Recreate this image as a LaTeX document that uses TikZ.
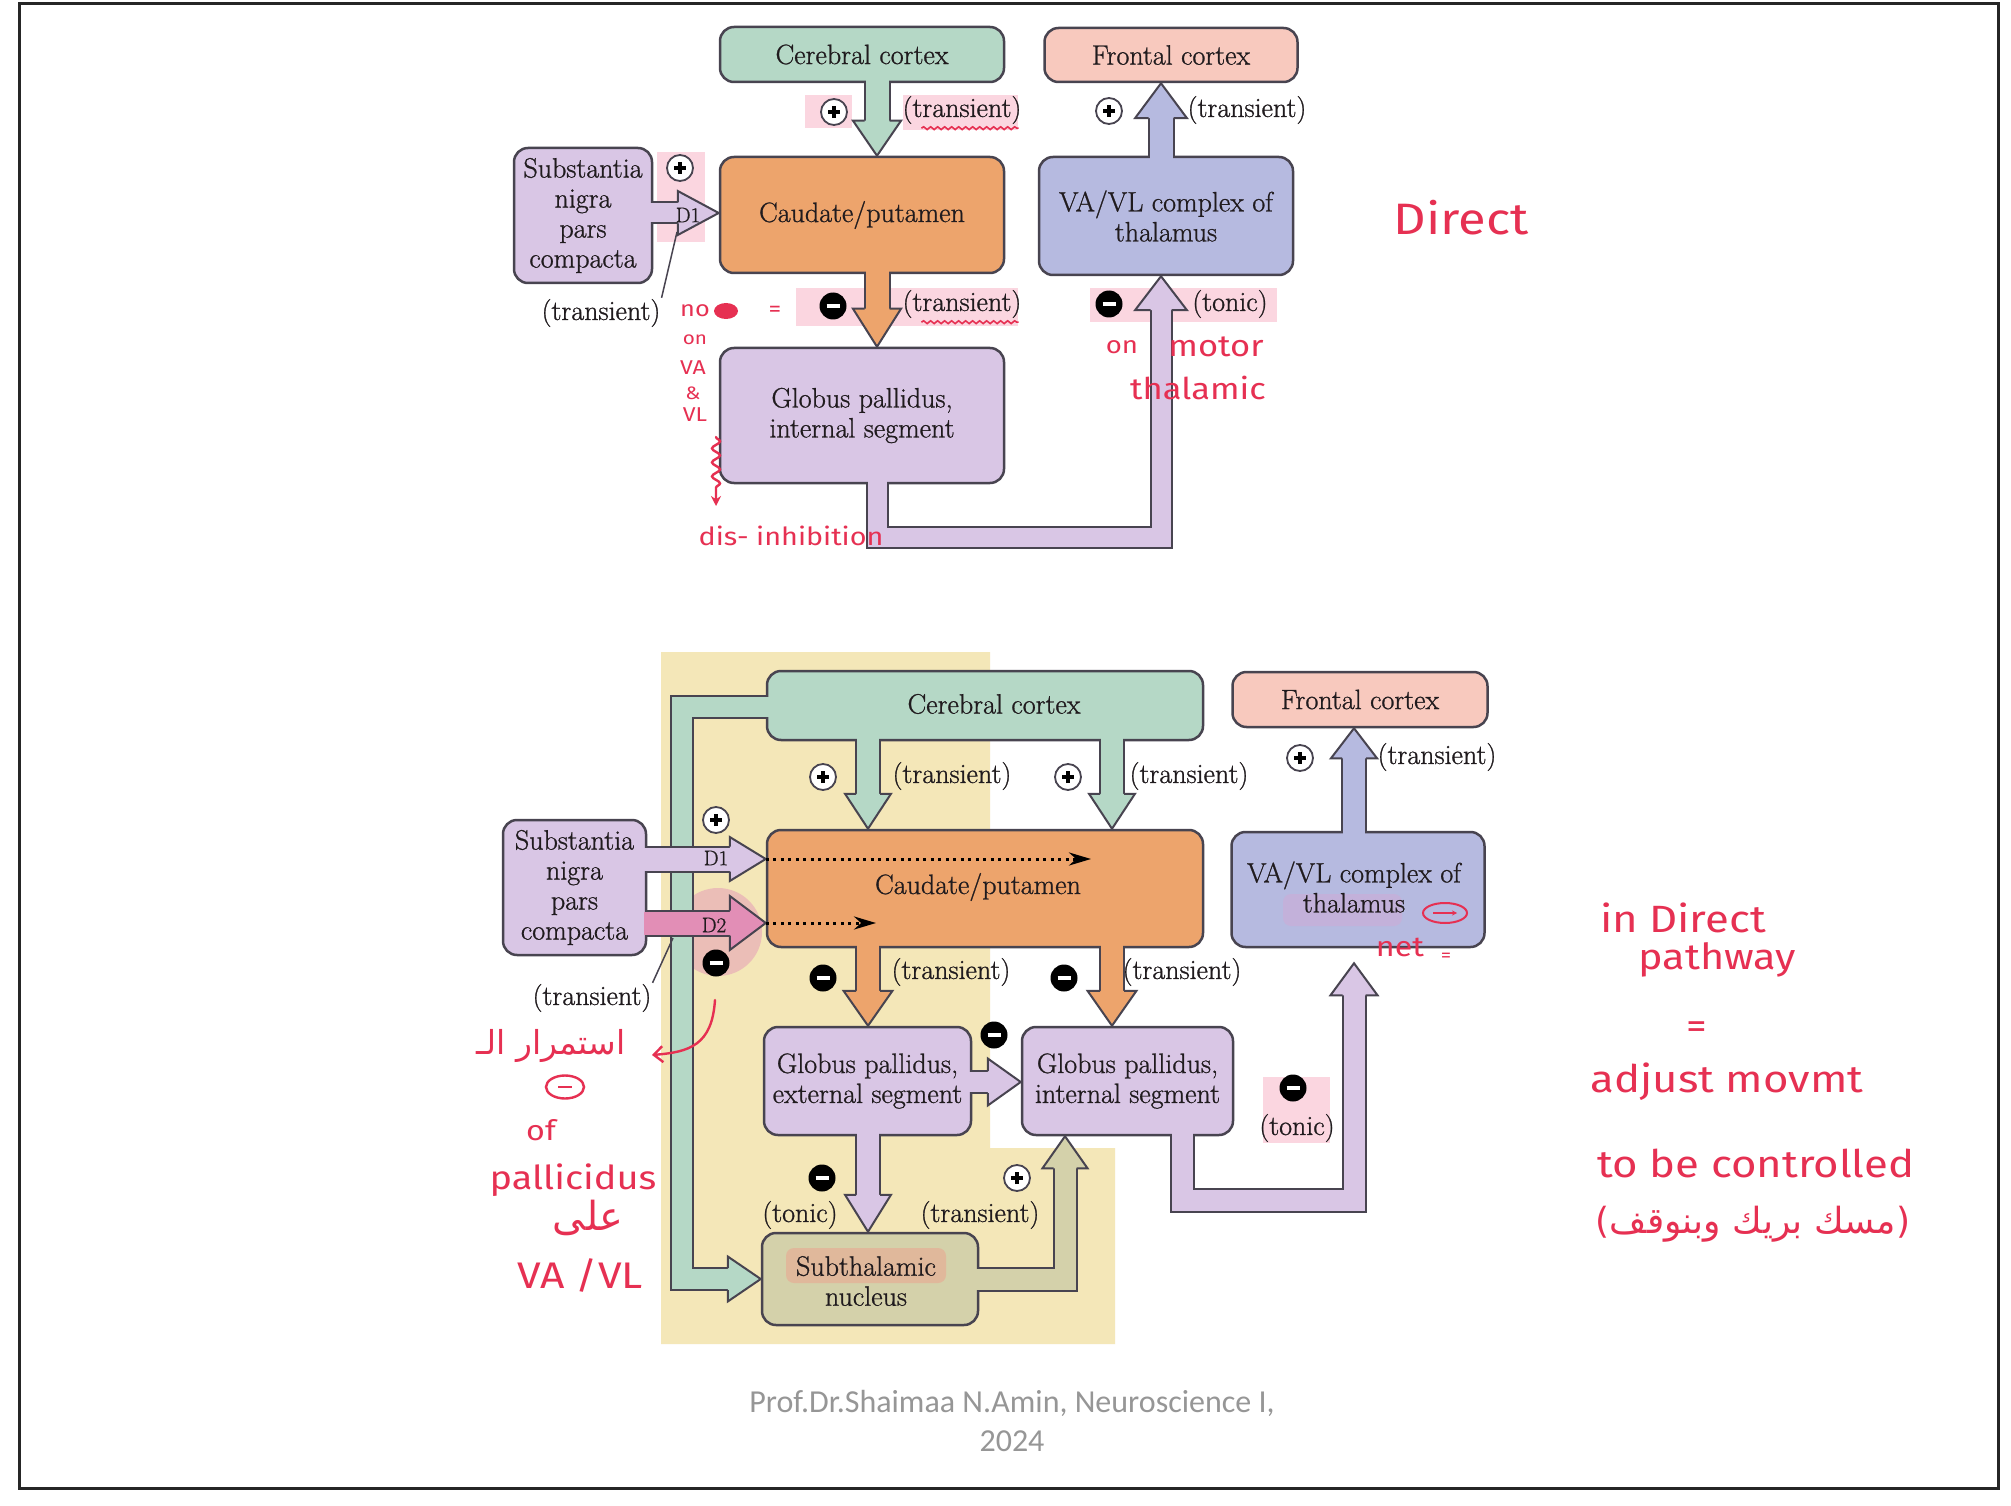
\documentclass[tikz,border=0pt]{standalone}
\usepackage{fontspec}
\usetikzlibrary{arrows.meta,calc,decorations.pathmorphing,shapes.geometric}
\TeXXeTstate=1
\newfontfamily\boxfont[FakeBold=0.9]{Latin Modern Roman}
\newfontfamily\handfont[FakeStretch=1.15]{Fira Sans}
\newfontfamily\arabicfont[Script=Arabic]{DejaVu Sans}
\newfontfamily\footfont{Carlito}

\definecolor{edge}{RGB}{72,68,80}
\definecolor{cortexgreen}{RGB}{181,216,198}
\definecolor{frontalpink}{RGB}{248,201,190}
\definecolor{caudorange}{RGB}{237,164,108}
\definecolor{thallav}{RGB}{182,186,224}
\definecolor{pallpurple}{RGB}{217,198,229}
\definecolor{stnkhaki}{RGB}{212,209,170}
\definecolor{dtwopink}{RGB}{226,142,182}
\definecolor{bgyellow}{RGB}{244,231,184}
\definecolor{pen}{RGB}{230,48,82}
\definecolor{marker}{RGB}{251,214,224}
\definecolor{labeltext}{RGB}{32,27,30}
\definecolor{footgray}{RGB}{150,150,150}

% shaft of a block arrow: dark rim first, fill colour on top
\newcommand{\blockshaft}[3]{%
  \draw[draw=edge, line width=#2+4pt, line join=miter] #3;
  \draw[draw=#1, line width=#2, line join=miter, shorten <=-3pt, shorten >=-2pt] #3;}
% head of a block arrow: fill, tip, angle, head width, head length, shaft width
\newcommand{\blockhead}[6]{%
  \begin{scope}[shift={#2}, rotate=#3]
    \fill[#1] (0pt,0pt) -- (-#5,#4/2) -- (-#5,-#4/2) -- cycle;
    \draw[edge, line width=2pt, line join=miter]
      (-#5,#6/2+1pt) -- (-#5,#4/2) -- (0pt,0pt) -- (-#5,-#4/2) -- (-#5,-#6/2-1pt);
  \end{scope}}

\tikzset{
  region/.style={draw=edge, line width=2.5pt, rounded corners=14pt, text=labeltext,
    font=\boxfont\fontsize{28}{30}\selectfont, align=center, inner sep=0pt},
  lbl/.style={text=labeltext, font=\boxfont\fontsize{28}{30}\selectfont, inner sep=1pt, align=center},
  dlbl/.style={text=labeltext, font=\boxfont\fontsize{21}{21}\selectfont, inner sep=0pt},
  excite/.style={circle, draw=edge, fill=white, line width=1.8pt, minimum size=26pt, inner sep=0pt,
    path picture={\draw[black, line width=3.2pt]
      (path picture bounding box.center) +(-6pt,0pt) -- +(6pt,0pt)
      (path picture bounding box.center) +(0pt,-6pt) -- +(0pt,6pt);}},
  inhibit/.style={circle, fill=black, minimum size=27pt, inner sep=0pt,
    path picture={\draw[white, line width=3.5pt]
      (path picture bounding box.center) +(-6.5pt,0pt) -- +(6.5pt,0pt);}},
  hand/.style={text=pen, inner sep=0pt, font=\handfont\fontsize{#1}{#1}\selectfont},
  hand/.default=26,
  arab/.style={text=pen, inner sep=0pt, font=\arabicfont\fontsize{#1}{#1}\selectfont},
  penline/.style={draw=pen, line width=2.4pt, line cap=round},
  wavy/.style={draw=pen, line width=1.6pt, decorate,
    decoration={snake, amplitude=1.4pt, segment length=7pt}},
  dopamine/.style={line width=3pt, dash pattern=on 3pt off 4.5pt, -{Stealth[length=22pt,width=13pt]}},
}

\begin{document}
\begin{tikzpicture}[x=1pt,y=-1pt]
\useasboundingbox (0,0) rectangle (2011,1506);
\fill[white] (0,0) rectangle (2011,1506);
\draw[line width=3pt, black!85] (19,4) rectangle (1998,1488);

% ---------------- highlighter marks (top) ----------------
\fill[marker] (805,95) rectangle (852,128);
\fill[marker] (903,95) rectangle (1018,130);
\fill[marker] (657,152) rectangle (705,242);
\fill[marker] (796,288) rectangle (1018,326);
\fill[marker] (1090,288) rectangle (1277,322);

% ================= DIRECT PATHWAY =================
\node[region, fill=cortexgreen, minimum width=284pt, minimum height=55pt] (cc1) at (862,54.5) {Cerebral cortex};
\node[region, fill=frontalpink, minimum width=253pt, minimum height=54pt] (fc1) at (1171,55) {Frontal cortex};
\node[region, fill=caudorange, minimum width=284pt, minimum height=116pt] (cp1) at (862,215) {Caudate/putamen};
\node[region, fill=thallav, minimum width=254pt, minimum height=118pt] (th1) at (1166,216) {VA/VL complex of\\thalamus};
\node[region, fill=pallpurple, minimum width=138pt, minimum height=135pt] (sn1) at (583,215.5) {Substantia\\nigra\\pars\\compacta};
\node[region, fill=pallpurple, minimum width=284pt, minimum height=135pt] (gpi1) at (862,415.5) {Globus pallidus,\\internal segment};

\coordinate (tA) at (877,0);
\coordinate (tB) at (1161,0);
\coordinate (tR) at (0,537);
\coordinate (tD) at (0,213);

% cortex -> caudate
\blockshaft{cortexgreen}{23pt}{(cc1.south -| tA) -- ($(cp1.north -| tA)+(0pt,35pt)$)}
\blockhead{cortexgreen}{(cp1.north -| tA)}{-90}{48pt}{35pt}{23pt}
% caudate -> GPi
\blockshaft{caudorange}{23pt}{(cp1.south -| tA) -- ($(gpi1.north -| tA)+(0pt,38pt)$)}
\blockhead{caudorange}{(gpi1.north -| tA)}{-90}{48pt}{38pt}{23pt}
% thalamus -> frontal cortex
\blockshaft{thallav}{23pt}{(th1.north -| tB) -- ($(fc1.south -| tB)+(0pt,-35pt)$)}
\blockhead{thallav}{(fc1.south -| tB)}{90}{52pt}{35pt}{23pt}
% GPi -> thalamus
\blockshaft{pallpurple}{19pt}{(gpi1.south -| tA) -- (tA |- tR) -- (tB |- tR) -- ($(th1.south -| tB)+(0pt,-34pt)$)}
\blockhead{pallpurple}{(th1.south -| tB)}{90}{52pt}{34pt}{19pt}
% substantia nigra -> caudate (D1)
\blockshaft{pallpurple}{19pt}{(sn1.east |- tD) -- ($(cp1.west |- tD)+(-41pt,0pt)$)}
\blockhead{pallpurple}{(cp1.west |- tD)}{0}{44pt}{41pt}{19pt}
\node[dlbl] (d1a) at (688,215) {D1};

\node[excite] (s1) at (834,112) {};
\node[lbl] (l1) at (962,110) {(transient)};
\node[excite] (s2) at (1109,111) {};
\node[lbl] (l2) at (1247,110) {(transient)};
\node[excite] (s3) at (680,168) {};
\node[inhibit] (s4) at (833,306) {};
\node[lbl] (l3) at (962,304) {(transient)};
\node[inhibit] (s5) at (1109,304) {};
\node[lbl] (l4) at (1230,304) {(tonic)};
\node[lbl] (l5) at (601,313) {(transient)};
\coordinate (d1foot) at (677,232);
\draw[edge, line width=1.5pt] (l5.north east) -- (d1foot);

% annotations (direct)
\draw[wavy] ($(l1.south west)+(20pt,-3pt)$) -- ($(l1.south east)+(-4pt,-3pt)$);
\draw[wavy] ($(l3.south west)+(20pt,-3pt)$) -- ($(l3.south east)+(-4pt,-3pt)$);
\node[hand=22] (h1) at (695,311) {no};
\node[ellipse, fill=pen, minimum width=24pt, minimum height=16pt, inner sep=0pt] (h1b) at (726,311) {};
\node[hand=22] (h2) at (775,311) {=};
\node[hand=18] (h3) at (695,340) {on};
\node[hand=20] (h4) at (693,368) {VA};
\node[hand=18] (h5) at (693,393) {\&};
\node[hand=20] (h6) at (695,415) {VL};
\coordinate (sq1) at (716,437);
\coordinate (sq2) at (716,506);
\draw[penline, -{Stealth[length=10pt,width=10pt]}, decorate,
  decoration={snake, amplitude=4pt, segment length=14pt, post length=14pt}] (sq1) -- (sq2);
\node[hand=25] (h7) at (791,536) {dis- inhibition};
\node[hand=24] (h8) at (1122,347) {on};
\node[hand=30] (h9) at (1216,347) {motor};
\node[hand=30] (h10) at (1198,388) {thalamic};
\node[hand=44] (h11) at (1461,218) {Direct};

% ================= INDIRECT PATHWAY =================
\fill[bgyellow] (661,652) -- (990,652) -- (990,1148) -- (1115,1148) -- (1115,1344) -- (661,1344) -- cycle;
\fill[dtwopink, opacity=0.45] (718,932) circle [radius=44pt];
\fill[marker] (1263,1077) rectangle (1330,1143);

\node[region, fill=cortexgreen, minimum width=436pt, minimum height=69pt] (cc2) at (985,705.5) {};
\node[lbl] (cc2t) at (994,704) {Cerebral cortex};
\node[region, fill=frontalpink, minimum width=255pt, minimum height=55pt] (fc2) at (1360,699.5) {Frontal cortex};
\node[region, fill=caudorange, minimum width=436pt, minimum height=117pt] (cp2) at (985,888.5) {};
\node[lbl] (cp2t) at (978,887) {Caudate/putamen};
\node[region, fill=thallav, minimum width=253pt, minimum height=115pt] (th2) at (1358,889.5) {};
\fill[rounded corners=8pt, fill={rgb,255:red,205;green,172;blue,214}, opacity=0.6] (1283,894) rectangle (1402,926);
\node[lbl] (th2t) at (1354,887) {VA/VL complex of\\thalamus};
\node[region, fill=pallpurple, minimum width=143pt, minimum height=135pt] (sn2) at (574.5,887.5) {Substantia\\nigra\\pars\\compacta};
\node[region, fill=pallpurple, minimum width=207pt, minimum height=108pt] (gpe) at (867.5,1081) {Globus pallidus,\\external segment};
\node[region, fill=pallpurple, minimum width=211pt, minimum height=108pt] (gpi2) at (1127.5,1081) {Globus pallidus,\\internal segment};
\node[region, fill=stnkhaki, minimum width=216pt, minimum height=92pt] (stn) at (870,1279) {};
\fill[rounded corners=8pt, fill={rgb,255:red,228;green,178;blue,152}, opacity=0.8] (786,1248) rectangle (946,1283);
\node[lbl] (stnt) at (866,1281) {Subthalamic\\nucleus};

\coordinate (bA) at (868,0);
\coordinate (bB) at (1112,0);
\coordinate (bC) at (1065,0);
\coordinate (bD) at (1182,0);
\coordinate (bE) at (1354,0);
\coordinate (bBand) at (682,0);
\coordinate (rBand) at (0,707);
\coordinate (rOut) at (0,1200);
\coordinate (rD1) at (0,859);
\coordinate (rD2) at (0,923);
\coordinate (rGp) at (0,1082);
\coordinate (dotA) at (1091,0);
\coordinate (dotB) at (876,0);

% cortex -> subthalamic nucleus
\blockshaft{cortexgreen}{20pt}{(cc2.west |- rBand) -- (bBand |- rBand) -- (bBand |- stn.west) -- ($(stn.west)+(-33pt,0pt)$)}
\blockhead{cortexgreen}{(stn.west)}{0}{45pt}{33pt}{20pt}
% cortex -> caudate (two limbs)
\blockshaft{cortexgreen}{22pt}{(cc2.south -| bA) -- ($(cp2.north -| bA)+(0pt,35pt)$)}
\blockhead{cortexgreen}{(cp2.north -| bA)}{-90}{46pt}{35pt}{22pt}
\blockshaft{cortexgreen}{22pt}{(cc2.south -| bB) -- ($(cp2.north -| bB)+(0pt,35pt)$)}
\blockhead{cortexgreen}{(cp2.north -| bB)}{-90}{46pt}{35pt}{22pt}
% caudate -> GPe, caudate -> GPi
\blockshaft{caudorange}{22pt}{(cp2.south -| bA) -- ($(gpe.north -| bA)+(0pt,35pt)$)}
\blockhead{caudorange}{(gpe.north -| bA)}{-90}{49pt}{35pt}{22pt}
\blockshaft{caudorange}{22pt}{(cp2.south -| bB) -- ($(gpi2.north -| bB)+(0pt,35pt)$)}
\blockhead{caudorange}{(gpi2.north -| bB)}{-90}{49pt}{35pt}{22pt}
% GPe -> GPi
\blockshaft{pallpurple}{20pt}{(gpe.east |- rGp) -- ($(gpi2.west |- rGp)+(-33pt,0pt)$)}
\blockhead{pallpurple}{(gpi2.west |- rGp)}{0}{47pt}{33pt}{20pt}
% GPe -> subthalamic nucleus
\blockshaft{pallpurple}{22pt}{(gpe.south -| bA) -- ($(stn.north -| bA)+(0pt,37pt)$)}
\blockhead{pallpurple}{(stn.north -| bA)}{-90}{46pt}{37pt}{22pt}
% subthalamic nucleus -> GPi
\blockshaft{stnkhaki}{21pt}{(stn.east) -- (bC |- stn.east) -- ($(gpi2.south -| bC)+(0pt,-32pt)$)}
\blockhead{stnkhaki}{(gpi2.south -| bC)}{90}{45pt}{32pt}{21pt}
% GPi -> thalamus
\blockshaft{pallpurple}{21pt}{(gpi2.south -| bD) -- (bD |- rOut) -- (bE |- rOut) -- ($(th2.south -| bE)+(0pt,-47pt)$)}
\blockhead{pallpurple}{($(th2.south -| bE)+(0pt,-15pt)$)}{90}{47pt}{32pt}{21pt}
% thalamus -> frontal cortex
\blockshaft{thallav}{22pt}{(th2.north -| bE) -- ($(fc2.south -| bE)+(0pt,-30pt)$)}
\blockhead{thallav}{(fc2.south -| bE)}{90}{46pt}{30pt}{22pt}
% substantia nigra -> caudate (D1, D2)
\blockshaft{pallpurple}{23pt}{(sn2.east |- rD1) -- ($(cp2.west |- rD1)+(-36pt,0pt)$)}
\blockhead{pallpurple}{(cp2.west |- rD1)}{0}{44pt}{36pt}{23pt}
\blockshaft{dtwopink}{23pt}{(sn2.east |- rD2) -- ($(cp2.west |- rD2)+(-36pt,0pt)$)}
\blockhead{dtwopink}{(cp2.west |- rD2)}{0}{54pt}{36pt}{23pt}
\node[dlbl] (d1b) at (716,858) {D1};
\node[dlbl] (d2b) at (714,925) {D2};
\draw[dopamine] (cp2.west |- rD1) -- (dotA |- rD1);
\draw[dopamine] (cp2.west |- rD2) -- (dotB |- rD2);

% signs and labels (indirect)
\node[excite] (s6) at (823,777) {};
\node[lbl] (l6) at (952,776) {(transient)};
\node[excite] (s7) at (1068,777) {};
\node[lbl] (l7) at (1189,776) {(transient)};
\node[excite] (s8) at (716,820) {};
\node[inhibit] (s9) at (716,963) {};
\node[lbl] (l8) at (592,998) {(transient)};
\coordinate (d2foot) at (673,938);
\draw[edge, line width=1.5pt] (l8.north east) -- (d2foot);
\node[inhibit] (s10) at (823,978) {};
\node[lbl] (l9) at (951,972) {(transient)};
\node[inhibit] (s11) at (1064,978) {};
\node[lbl] (l10) at (1182,972) {(transient)};
\node[inhibit] (s12) at (994,1035) {};
\node[inhibit] (s13) at (822,1178) {};
\node[lbl] (l11) at (800,1215) {(tonic)};
\node[excite] (s14) at (1017,1178) {};
\node[lbl] (l12) at (980,1215) {(transient)};
\node[inhibit] (s15) at (1293,1088) {};
\node[lbl] (l13) at (1297,1128) {(tonic)};
\node[excite] (s16) at (1300,758) {};
\node[lbl] (l14) at (1437,757) {(transient)};

% annotations (indirect)
\coordinate (rc1) at (715,1000);
\coordinate (rc2) at (652,1055);
\draw[penline, -{Straight Barb[length=9pt,width=16pt]}] (rc1) .. controls (712,1045) and (690,1052) .. (rc2);
\node[arab=33] (h12) at (551,1046) {\beginR استمرار الـ\endR};
\node[ellipse, draw=pen, line width=2.4pt, minimum width=38pt, minimum height=23pt, inner sep=0pt,
  path picture={\draw[pen, line width=2.4pt] (path picture bounding box.center) +(-7pt,0pt) -- +(7pt,0pt);}] (h13) at (565,1087) {};
\node[hand=28] (h14) at (541,1130) {of};
\node[hand=33] (h15) at (573,1180) {pallicidus};
\node[arab=40] (h16) at (588,1218) {\beginR على\endR};
\node[hand=37] (h17) at (580,1275) {VA /VL};
\node[ellipse, draw=pen, line width=2pt, minimum width=44pt, minimum height=20pt, inner sep=0pt,
  path picture={\draw[pen, line width=1.4pt, -{Stealth[length=5pt,width=5pt]}] (path picture bounding box.center) +(-12pt,0pt) -- +(12pt,0pt);}] (h18) at (1445,913) {};
\node[hand=28] (h19) at (1400,947) {net};
\node[hand=18] (h20) at (1446,957) {=};

\node[hand=38] (h21) at (1683,918) {in Direct};
\node[hand=36] (h22) at (1717,960) {pathway};
\node[hand=36] (h23) at (1697,1030) {=};
\node[hand=38] (h24) at (1727,1082) {adjust movmt};
\node[hand=38] (h25) at (1756,1163) {to be controlled};
\node[arab=36] (h26) at (1753,1224) {\beginR(مسك بريك وبنوقف)\endR};

% footer
\node[font=\footfont\fontsize{32}{39}\selectfont, text=footgray, align=center, inner sep=0pt] (foot) at (1012,1421) {Prof.Dr.Shaimaa N.Amin, Neuroscience I,\\2024};
\end{tikzpicture}
\end{document}
